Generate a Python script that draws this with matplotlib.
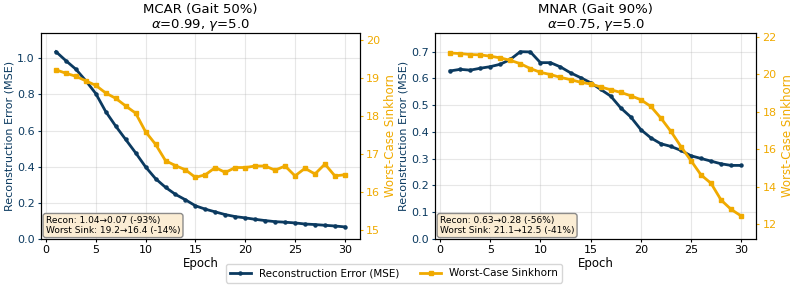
import matplotlib
matplotlib.use("Agg")
import matplotlib.pyplot as plt
import numpy as np

epochs = list(range(1, 31))

mcar_recon = [1.037, 0.987, 0.94, 0.876, 0.805, 0.705, 0.625, 0.551, 0.477, 0.399,
              0.334, 0.286, 0.247, 0.217, 0.184, 0.165, 0.150, 0.135, 0.124, 0.117,
              0.109, 0.102, 0.096, 0.093, 0.089, 0.083, 0.080, 0.076, 0.072, 0.067]
mcar_sink = [19.21, 19.12, 19.04, 18.92, 18.80, 18.60, 18.46, 18.26, 18.07, 17.58,
             17.25, 16.82, 16.69, 16.58, 16.38, 16.45, 16.64, 16.51, 16.64, 16.64,
             16.68, 16.68, 16.57, 16.68, 16.42, 16.62, 16.47, 16.73, 16.42, 16.45]

mnar_recon = [0.628, 0.634, 0.631, 0.638, 0.644, 0.653, 0.671, 0.700, 0.699, 0.659,
              0.659, 0.643, 0.621, 0.603, 0.584, 0.559, 0.534, 0.490, 0.456, 0.409,
              0.378, 0.356, 0.346, 0.331, 0.311, 0.301, 0.291, 0.281, 0.275, 0.275]
mnar_sink = [21.14, 21.11, 21.06, 21.04, 20.97, 20.88, 20.75, 20.57, 20.31, 20.11,
             19.99, 19.84, 19.72, 19.58, 19.49, 19.33, 19.18, 19.04, 18.86, 18.65,
             18.29, 17.67, 16.96, 16.15, 15.40, 14.64, 14.19, 13.30, 12.80, 12.45]

titles = ["MCAR (Gait 50%)\n$\\alpha$=0.99, $\\gamma$=5.0",
          "MNAR (Gait 90%)\n$\\alpha$=0.75, $\\gamma$=5.0"]
box_texts = ["Recon: 1.04\u21920.07 (-93%)\nWorst Sink: 19.2\u219216.4 (-14%)",
             "Recon: 0.63\u21920.28 (-56%)\nWorst Sink: 21.1\u219212.5 (-41%)"]

NAVY = "#0b3a60"
GOLD = "#f0aa00"

fig = plt.figure(figsize=(7.93, 2.89), dpi=100)
positions = [[0.0517, 0.173, 0.402, 0.713], [0.5486, 0.173, 0.405, 0.713]]
recons = [mcar_recon, mnar_recon]
sinks = [mcar_sink, mnar_sink]
sink_lims = [(14.76, 20.18), (11.22, 22.21)]
sink_ticks = [np.arange(15, 21, 1), np.arange(12, 23, 2)]

handles = None
for i in range(2):
    ax = fig.add_axes(positions[i])
    ax2 = ax.twinx()
    l1, = ax.plot(epochs, recons[i], color=NAVY, lw=2, marker='o', ms=2.2,
                  label="Reconstruction Error (MSE)")
    l2, = ax2.plot(epochs, sinks[i], color=GOLD, lw=2, marker='s', ms=2.2,
                   label="Worst-Case Sinkhorn")
    ax.set_ylim(0, max(recons[i]) * 1.1)
    ax.set_xlim(-0.5, 31.5)
    ax.set_xticks([0, 5, 10, 15, 20, 25, 30])
    ax2.set_ylim(*sink_lims[i])
    ax2.set_yticks(sink_ticks[i])
    ax.grid(True, alpha=0.3)
    ax.set_xlabel("Epoch", fontsize=8.5, labelpad=1)
    ax.set_ylabel("Reconstruction Error (MSE)", color=NAVY, fontsize=8, labelpad=2)
    ax2.set_ylabel("Worst-Case Sinkhorn", color=GOLD, fontsize=8.5, labelpad=3)
    ax.tick_params(axis='y', colors=NAVY, labelsize=8, length=2.5, pad=2)
    ax.tick_params(axis='x', labelsize=8, length=2.5, pad=2)
    ax2.tick_params(axis='y', colors=GOLD, labelsize=8, length=2.5, pad=2)
    for a in (ax, ax2):
        for s in a.spines.values():
            s.set_color("black")
    ax.set_title(titles[i], fontsize=9.5, pad=3, linespacing=1.05)
    ax.text(0.015, 0.02, box_texts[i], transform=ax.transAxes, fontsize=6.5,
            va='bottom', ha='left', linespacing=1.1,
            bbox=dict(boxstyle='round,pad=0.3', facecolor='#fbebd0',
                      edgecolor='gray', alpha=0.9))
    handles = [l1, l2]

fig.legend(handles, [h.get_label() for h in handles], loc='center',
           bbox_to_anchor=(0.497, 0.054), ncol=2, fontsize=7.5, frameon=True,
           columnspacing=2, handlelength=2, borderpad=0.4)

fig.savefig("out.png", dpi=100)
